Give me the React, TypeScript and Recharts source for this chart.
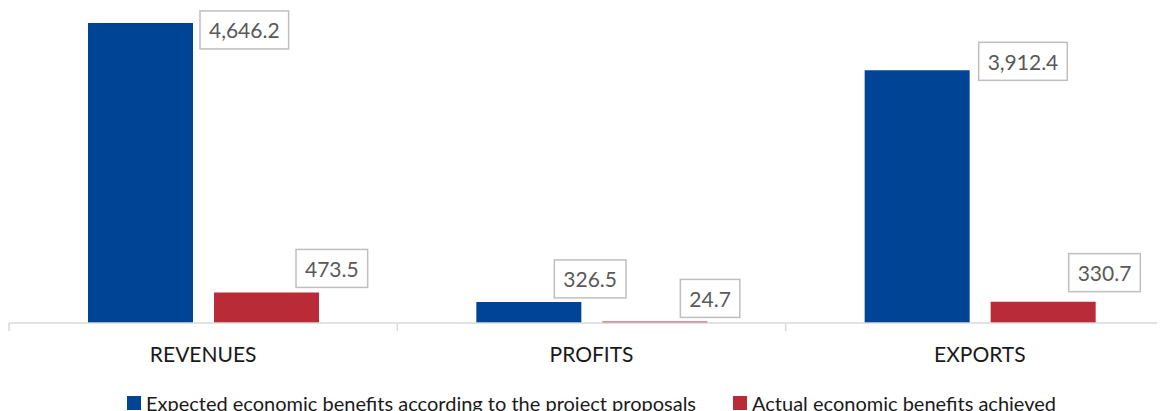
import React from 'react';
import { BarChart, Bar, XAxis, YAxis, Legend, LabelList } from 'recharts';

// Chart data
const categories = ['REVENUES', 'PROFITS', 'EXPORTS'];
const expectedValues = [4646.2, 326.5, 3912.4];
const actualValues = [473.5, 24.7, 330.7];
const seriesNames = [
  'Expected economic benefits according to the project proposals',
  'Actual economic benefits achieved',
];

const BLUE = '#004595';
const RED = '#B92B36';
const FONT = 'Lato, "Open Sans", sans-serif';

// Layout
const CHART_W = 1180;
const CHART_H = 403;
const MARGIN = { top: 5, right: 14, left: 1, bottom: 0 };
const PLOT_H = 310;
const AXIS_Y = MARGIN.top + PLOT_H;
const BAND_W = (CHART_W - MARGIN.left - MARGIN.right) / categories.length;

// label box placement, relative to the bar's top-right corner (dragged by hand in the original)
const expectedLabelPos = [
  { dx: 7, dy: 7 },
  { dx: -27, dy: -23 },
  { dx: 9, dy: -9 },
];
const actualLabelPos = [
  { dx: -23, dy: -24 },
  { dx: -27, dy: -23 },
  { dx: -27, dy: -29 },
];

const data = categories.map((name, i) => ({
  name,
  expected: expectedValues[i],
  actual: actualValues[i],
}));

const fmt = (v: number) =>
  v.toLocaleString('en-US', { minimumFractionDigits: 1, maximumFractionDigits: 1 });

let ctx: CanvasRenderingContext2D | null = null;
const measure = (text: string, font: string) => {
  if (!ctx) ctx = document.createElement('canvas').getContext('2d');
  if (!ctx) return text.length * 11;
  ctx.font = font;
  return ctx.measureText(text).width;
};

const makeBoxLabel = (positions: { dx: number; dy: number }[]) => (props: any) => {
  const { x, y, width, value, index } = props;
  const pos = positions[index] || { dx: 0, dy: 0 };
  const text = fmt(Number(value));
  const textW = measure(text, `21px ${FONT}`);
  const boxW = textW + 18;
  const boxH = 38;
  const left = Number(x) + Number(width) + pos.dx;
  const cy = Number(y) + pos.dy;
  return (
    <g>
      <rect x={left} y={cy - boxH / 2} width={boxW} height={boxH} fill="#fff" stroke="#bfbfbf" strokeWidth={1.5} />
      <text
        x={left + boxW / 2}
        y={cy}
        textAnchor="middle"
        dominantBaseline="central"
        fill="#595959"
        fontSize={21}
        fontFamily={FONT}
      >
        {text}
      </text>
    </g>
  );
};

const CategoryTick = (props: any) => {
  const { x, payload, index } = props;
  const left = x - BAND_W / 2;
  return (
    <g>
      <line x1={left} y1={AXIS_Y} x2={left} y2={AXIS_Y + 8} stroke="#d9d9d9" strokeWidth={1.5} />
      {index === categories.length - 1 && (
        <line x1={x + BAND_W / 2} y1={AXIS_Y} x2={x + BAND_W / 2} y2={AXIS_Y + 8} stroke="#d9d9d9" strokeWidth={1.5} />
      )}
      <text x={x} y={AXIS_Y + 30} textAnchor="middle" dominantBaseline="central" fill="#1a1a1a" fontSize={21} fontFamily={FONT}>
        {payload.value}
      </text>
    </g>
  );
};

const LegendContent = () => (
  <div
    style={{
      display: 'flex',
      justifyContent: 'center',
      alignItems: 'center',
      gap: 37,
      height: 20,
      fontFamily: FONT,
      fontSize: 20,
      color: '#1a1a1a',
      whiteSpace: 'nowrap',
    }}
  >
    {seriesNames.map((n, i) => (
      <div key={n} style={{ display: 'flex', alignItems: 'center', gap: 5 }}>
        <span style={{ width: 14, height: 14, background: i === 0 ? BLUE : RED, display: 'inline-block' }} />
        <span>{n}</span>
      </div>
    ))}
  </div>
);

export default function App() {
  return (
    <div style={{ width: 1149, height: CHART_H, overflow: 'hidden', position: 'relative' }}>
      <BarChart
        width={CHART_W}
        height={CHART_H}
        data={data}
        margin={MARGIN}
        barSize={105}
        barGap={21}
      >
        <XAxis
          dataKey="name"
          height={68}
          axisLine={{ stroke: '#d9d9d9', strokeWidth: 1.5 }}
          tickLine={false}
          tick={<CategoryTick />}
          interval={0}
        />
        <YAxis hide domain={[0, 4800]} />
        <Legend
          verticalAlign="bottom"
          height={20}
          content={<LegendContent />}
          wrapperStyle={{ bottom: -2 }}
        />
        <Bar dataKey="expected" name={seriesNames[0]} fill={BLUE} isAnimationActive={false}>
          <LabelList dataKey="expected" content={makeBoxLabel(expectedLabelPos)} />
        </Bar>
        <Bar dataKey="actual" name={seriesNames[1]} fill={RED} isAnimationActive={false}>
          <LabelList dataKey="actual" content={makeBoxLabel(actualLabelPos)} />
        </Bar>
      </BarChart>
    </div>
  );
}
